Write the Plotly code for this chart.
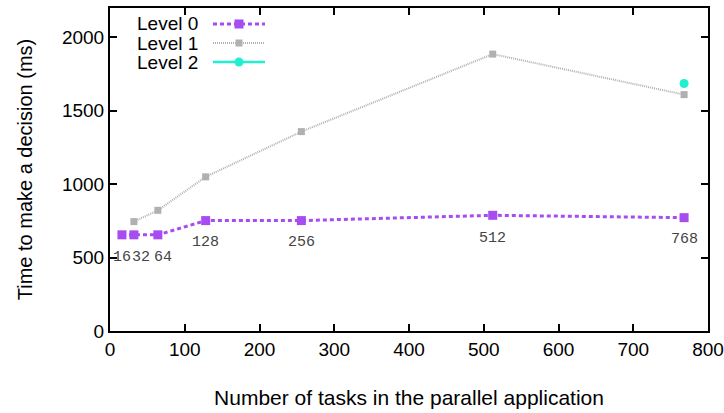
import plotly.graph_objects as go

level0_x = [16, 32, 64, 128, 256, 512, 768]
level0_y = [655, 655, 655, 752, 752, 788, 772]
level1_x = [32, 64, 128, 256, 512, 768]
level1_y = [745, 822, 1050, 1358, 1886, 1610]
level2_x = [768]
level2_y = [1686]
point_labels = ["16", "32", "64", "128", "256", "512", "768"]
label_y = [500, 500, 500, 600, 600, 630, 620]
label_xshift = [0, 7, 5, 0, 0, 0, 0]

C0 = "#a64cf0"
C1 = "#b0b0b0"
C2 = "#20f0d0"
SANS = "Liberation Sans, Arial, sans-serif"

fig = go.Figure()
fig.add_trace(go.Scatter(x=level0_x, y=level0_y, name="Level 0", mode="lines+markers",
                         line=dict(color=C0, width=3, dash="4px,3px"),
                         marker=dict(symbol="square", size=9, color=C0)))
fig.add_trace(go.Scatter(x=level1_x, y=level1_y, name="Level 1", mode="lines+markers",
                         line=dict(color=C1, width=2, dash="1px,1px"),
                         marker=dict(symbol="square", size=7, color=C1)))
fig.add_trace(go.Scatter(x=level2_x, y=level2_y, name="Level 2", mode="lines+markers",
                         line=dict(color=C2, width=2.5),
                         marker=dict(symbol="circle", size=9, color=C2)))

for xv, yv, t, sh in zip(level0_x, label_y, point_labels, label_xshift):
    fig.add_annotation(x=xv, y=yv, text=t, showarrow=False, xshift=sh,
                       font=dict(family="Liberation Mono, DejaVu Sans Mono, monospace", size=15, color="#444444"))

# manual gnuplot-style legend (text left, sample right)
legend_items = [("Level 0", C0, 3, "4px,3px", "square", 9),
                ("Level 1", C1, 2, "1px,1px", "square", 7),
                ("Level 2", C2, 2.5, "solid", "circle", 9)]
row_y = [0.9505, 0.8916, 0.8328]
for (name, col, w, dash, sym, sz), ry in zip(legend_items, row_y):
    fig.add_annotation(xref="paper", yref="paper", x=0.1505, y=ry, text=name, showarrow=False,
                       xanchor="right", yanchor="middle", font=dict(family=SANS, size=19, color="black"))
    fig.add_shape(type="line", xref="paper", yref="paper", x0=0.1722, x1=0.2592, y0=ry, y1=ry,
                  line=dict(color=col, width=w, dash=dash))
    h = sz / 2
    fig.add_shape(type="rect" if sym == "square" else "circle", xref="paper", yref="paper",
                  xsizemode="pixel", ysizemode="pixel", xanchor=0.2157, yanchor=ry,
                  x0=-h, x1=h, y0=-h, y1=h, fillcolor=col, line=dict(width=0))

axis_common = dict(showline=True, linecolor="black", linewidth=2, mirror="ticks",
                   ticks="inside", ticklen=7, tickwidth=2, tickcolor="black",
                   showgrid=False, zeroline=False, automargin=False,
                   tickfont=dict(family=SANS, size=19, color="black"))

fig.update_layout(
    width=724, height=413,
    margin=dict(l=110, r=16, t=8, b=82),
    paper_bgcolor="white", plot_bgcolor="white",
    showlegend=False,
    xaxis=dict(range=[0, 800], dtick=100, tick0=0,
               title=dict(text="Number of tasks in the parallel application", standoff=32,
                          font=dict(family=SANS, size=21, color="black")),
               **axis_common),
    yaxis=dict(range=[0, 2200], tickvals=[0, 500, 1000, 1500, 2000],
               title=dict(text="Time to make a decision (ms)", standoff=24,
                          font=dict(family=SANS, size=20, color="black")),
               **axis_common),
)

fig.write_html("out.html", config={"displayModeBar": False},
               post_script="document.body.style.margin='0';document.body.style.overflow='hidden';")
